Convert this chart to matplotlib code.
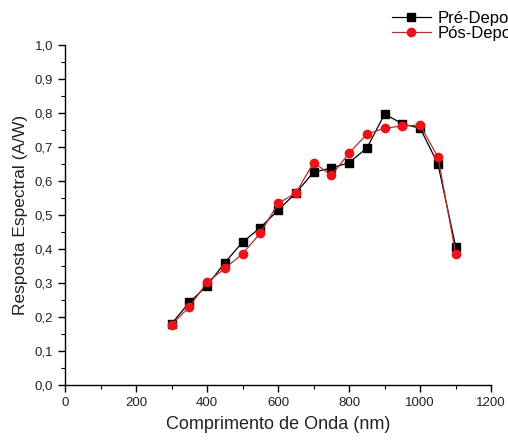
import matplotlib
matplotlib.use("Agg")
import matplotlib.pyplot as plt
from matplotlib.ticker import MultipleLocator, FuncFormatter

wavelength = [300, 350, 400, 450, 500, 550, 600, 650, 700, 750, 800, 850,
              900, 950, 1000, 1050, 1100]
pre_deposicao = [0.180, 0.243, 0.292, 0.360, 0.420, 0.463, 0.514, 0.565,
                 0.626, 0.638, 0.654, 0.697, 0.797, 0.768, 0.755, 0.650, 0.406]
pos_deposicao = [0.177, 0.230, 0.302, 0.343, 0.386, 0.447, 0.534, 0.565,
                 0.654, 0.617, 0.682, 0.738, 0.755, 0.762, 0.764, 0.670, 0.386]
labels = ["Pré-Deposição", "Pós-Deposição"]

plt.rcParams['font.family'] = ['Liberation Sans', 'DejaVu Sans']

fig = plt.figure(figsize=(5.08, 4.41), dpi=100)
ax = fig.add_axes([0.128, 0.127, 0.839, 0.771])

ax.plot(wavelength, pre_deposicao, color='black', lw=0.9, marker='s',
        markersize=5.5, label=labels[0], zorder=3)
ax.plot(wavelength, pos_deposicao, color='#b03030', lw=0.9, marker='o',
        markersize=6, markerfacecolor='#e8141a', markeredgecolor='#e8141a',
        label=labels[1], zorder=4)

ax.set_xlim(0, 1200)
ax.set_ylim(0, 1.0)
ax.xaxis.set_major_locator(MultipleLocator(200))
ax.xaxis.set_minor_locator(MultipleLocator(100))
ax.yaxis.set_major_locator(MultipleLocator(0.1))
ax.yaxis.set_minor_locator(MultipleLocator(0.05))
ax.yaxis.set_major_formatter(FuncFormatter(lambda v, p: f"{v:.1f}".replace('.', ',')))

for s in ['top', 'right']:
    ax.spines[s].set_visible(False)
for s in ['left', 'bottom']:
    ax.spines[s].set_linewidth(1.0)
ax.tick_params(which='major', direction='out', length=5, width=1.0,
               labelsize=9.5, colors='black', labelcolor='#222222')
ax.tick_params(which='minor', direction='out', length=3, width=0.8)

ax.set_xlabel("Comprimento de Onda (nm)", fontsize=13, color='#222222', labelpad=5)
ax.set_ylabel("Resposta Espectral (A/W)", fontsize=12.5, color='#222222', labelpad=5)

fig.legend(loc='upper left', bbox_to_anchor=(0.759, 0.99), frameon=False,
           fontsize=12, handlelength=2.3, handletextpad=0.4, labelspacing=0.0,
           borderaxespad=0.0)

fig.savefig("out.png", dpi=100)
